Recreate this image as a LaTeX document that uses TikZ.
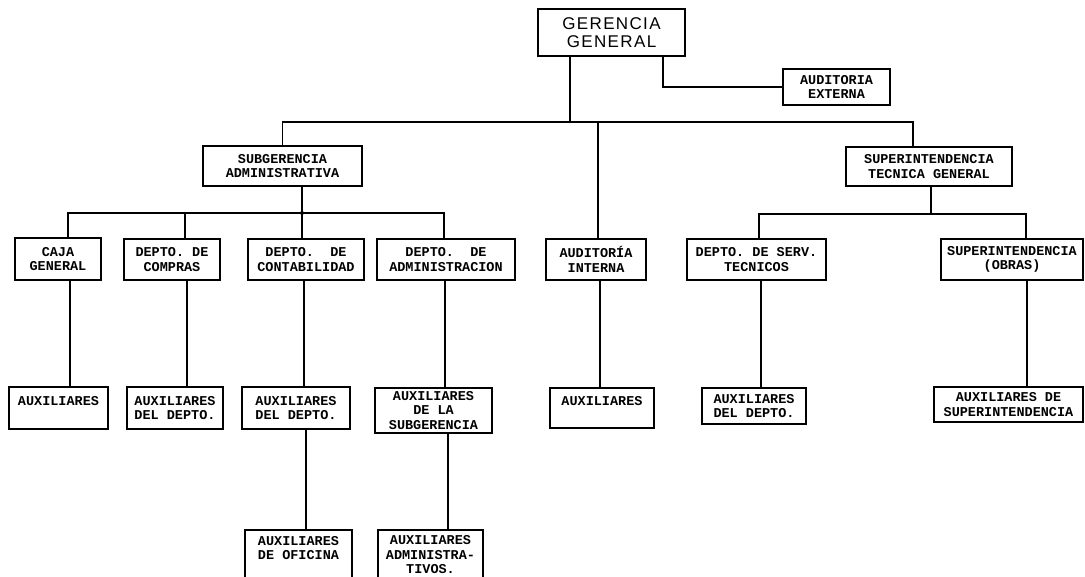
\documentclass[tikz,border=0pt]{standalone}
\usepackage{fontspec}
\setmonofont{Liberation Mono}
\newfontfamily\gerfont[LetterSpace=8]{Liberation Sans}

\tikzset{
  orgbox/.style 2 args={draw, line width=1.1pt, align=center, inner sep=1pt,
    font=\ttfamily\bfseries\fontsize{13.5}{14.5}\selectfont,
    minimum width=#1pt, minimum height=#2pt},
  link/.style={line width=1.1pt}
}

\begin{document}
\begin{tikzpicture}[x=1pt, y=-1pt]
\useasboundingbox (0,0) rectangle (1085,577);

% direccion
\node[orgbox={147}{47}, font=\gerfont\fontsize{17}{18}\selectfont] (ger) at (611.5,32.5) {GERENCIA\\GENERAL};
\node[orgbox={107}{36}] (audext) at (836.5,87) {AUDITORIA\\EXTERNA};
\node[orgbox={159}{40}] (subger) at (282.5,166) {SUBGERENCIA\\ADMINISTRATIVA};
\node[orgbox={166}{39}] (suptec) at (929,166.5) {SUPERINTENDENCIA\\TECNICA GENERAL};

% departamentos
\node[orgbox={86}{42}] (caja) at (58,259) {CAJA\\GENERAL};
\node[orgbox={96}{41}] (compras) at (172,259.5) {DEPTO. DE\\COMPRAS};
\node[orgbox={116}{41}] (contab) at (306,259.5) {DEPTO.~~DE\\CONTABILIDAD};
\node[orgbox={138}{41}] (admin) at (446,259.5) {DEPTO.~~DE\\ADMINISTRACION};
\node[orgbox={100}{41}] (audint) at (596,259.5) {AUDITORÍA\\INTERNA};
\node[orgbox={139}{41}] (serv) at (756.5,259.5) {DEPTO. DE SERV.\\TECNICOS};
\node[orgbox={142}{41}] (obras) at (1012,259.5) {SUPERINTENDENCIA\\(OBRAS)};

% auxiliares
\node[orgbox={99}{42}] (aux1) at (58.5,408) {AUXILIARES\\~};
\node[orgbox={96}{42}] (aux2) at (175,408) {AUXILIARES\\DEL DEPTO.};
\node[orgbox={108}{42}] (aux3) at (296,408) {AUXILIARES\\DEL DEPTO.};
\node[orgbox={117}{45}] (aux4) at (433.5,410.5) {AUXILIARES\\DE LA\\SUBGERENCIA};
\node[orgbox={104}{40}] (aux5) at (602,408) {AUXILIARES\\~};
\node[orgbox={104}{36}] (aux6) at (754,406) {AUXILIARES\\DEL DEPTO.};
\node[orgbox={149}{35}] (aux7) at (1008.5,404.5) {AUXILIARES DE\\SUPERINTENDENCIA};
\node[orgbox={107}{50}] (ofic) at (298.5,555) {AUXILIARES\\DE OFICINA\\~};
\node[orgbox={105}{50}] (adm2) at (430.5,555) {AUXILIARES\\ADMINISTRA-\\TIVOS.};

% lineas
\coordinate (tbus) at (570,122);
\coordinate (lbus) at (302,213);
\coordinate (rbus) at (931,214);

\draw[link] (ger.south -| tbus) -- (tbus);
\draw[link] (subger.north) |- (tbus);
\draw[link] ([xshift=-16pt]suptec.north) |- (tbus);
\draw[link] ([xshift=2pt]audint.north) coordinate (p) -- (p |- tbus);
\draw[link] ([xshift=51.5pt]ger.south) |- (audext.west);

\draw[link] ([xshift=19.5pt]subger.south) -- (lbus);
\foreach \n/\d in {caja/10, compras/13, contab/-4, admin/-2}
  \draw[link] ([xshift=\d pt]\n.north) |- (lbus);
\fill (lbus) circle (2pt);

\draw[link] ([xshift=2pt]suptec.south) -- (rbus);
\foreach \n/\d in {serv/2.5, obras/14}
  \draw[link] ([xshift=\d pt]\n.north) |- (rbus);

\foreach \a/\b/\d in {caja/aux1/12, compras/aux2/15, contab/aux3/-2, admin/aux4/-1,
    audint/aux5/4, serv/aux6/4.5, obras/aux7/15, aux3/ofic/10, aux4/adm2/14.5}
  \draw[link] ([xshift=\d pt]\a.south) coordinate (p) -- (\b.north -| p);
%
\end{tikzpicture}
\end{document}
